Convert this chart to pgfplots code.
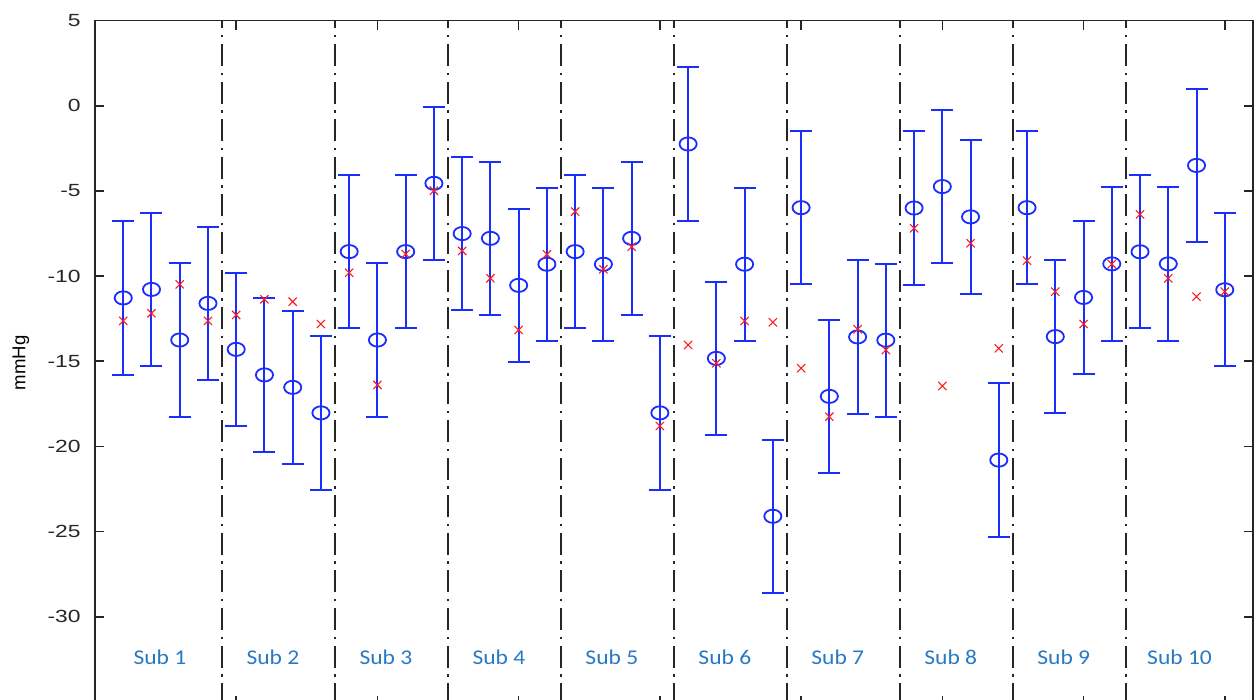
\documentclass[border=0pt]{standalone}
\usepackage{pgfplots}
\pgfplotsset{compat=1.18}
\usepackage{pgfplotstable}
\usepackage{fontspec}
\setmainfont{Liberation Sans}
\newfontfamily\calibri{Carlito}
\definecolor{sublbl}{RGB}{40,120,195}
\definecolor{mblue}{RGB}{25,45,255}

\pgfplotstableread{
x m e r
1 -11.28 4.5 -12.63
2 -10.78 4.5 -12.18
3 -13.75 4.5 -10.48
4 -11.60 4.5 -12.63
5 -14.30 4.5 -12.28
6 -15.80 4.5 -11.36
7 -16.53 4.5 -11.50
8 -18.03 4.5 -12.81
9 -8.56 4.5 -9.80
10 -13.75 4.5 -16.39
11 -8.56 4.5 -8.70
12 -4.55 4.5 -4.98
13 -7.50 4.5 -8.52
14 -7.78 4.5 -10.13
15 -10.54 4.5 -13.16
16 -9.30 4.5 -8.72
17 -8.56 4.5 -6.21
18 -9.30 4.5 -9.60
19 -7.78 4.5 -8.27
20 -18.03 4.5 -18.80
21 -2.24 4.5 -14.04
22 -14.83 4.5 -15.12
23 -9.30 4.5 -12.63
24 -24.10 4.5 -12.71
25 -5.98 4.5 -15.41
26 -17.06 4.5 -18.25
27 -13.57 4.5 -13.12
28 -13.76 4.5 -14.34
29 -6.00 4.5 -7.19
30 -4.74 4.5 -16.45
31 -6.52 4.5 -8.07
32 -20.80 4.5 -14.24
33 -5.98 4.5 -9.09
34 -13.55 4.5 -10.91
35 -11.25 4.5 -12.81
36 -9.28 4.5 -9.29
37 -8.57 4.5 -6.37
38 -9.28 4.5 -10.13
39 -3.50 4.5 -11.20
40 -10.80 4.5 -10.91
}\data

\begin{document}
\begin{tikzpicture}
\begin{axis}[
  scale only axis, width=579pt, height=342.3pt,
  xmin=0, xmax=41, ymin=-35.2, ymax=5,
  xtick={0,5,...,40}, xticklabels={},
  ytick={-30,-25,...,5},
  tick align=inside, major tick length=4.5pt,
  tick style={black!85, line width=0.8pt},
  axis line style={line width=0.8pt, black!85},
  /pgf/number format/assume math mode=true,
  yticklabel style={font=\fontsize{8.8}{10}\selectfont, xscale=1.3, xshift=-2pt, text=black!85},
  ylabel={mmHg},
  every axis y label/.style={at={([xshift=-37pt]axis description cs:0,0.5)}, rotate=90, anchor=center, font=\fontsize{9.3}{10}\selectfont},
  clip=false,
]
\coordinate (ll) at (rel axis cs:0,0);
\coordinate (ur) at (rel axis cs:1,1);

\pgfplotsinvokeforeach{4.5,8.5,12.5,16.5,20.5,24.5,28.5,32.5,36.5}{
  \draw[black!85, line width=1pt, dash pattern=on 11pt off 3.3pt on 1.2pt off 3.3pt] (axis cs:#1,-35.2) -- (axis cs:#1,5);
}

\addplot[mblue, line width=1pt, only marks, mark=o, mark size=3.3pt,
  mark options={xscale=1.3, line width=0.9pt},
  error bars/.cd, y dir=both, y explicit,
  error bar style={line width=1pt, mblue},
  error mark options={mblue, line width=1pt, mark size=5.5pt, rotate=90}]
  table[x=x, y=m, y error=e] {\data};

\addplot[red!90, only marks, mark=x, mark size=2.9pt, mark options={line width=0.55pt}]
  table[x=x, y=r] {\data};

\tikzset{sub/.style={text=sublbl, font=\calibri\fontsize{10.5}{12}\selectfont, xscale=1.12}}
\node[sub] at (axis cs:2.3,-32.4) {Sub 1};
\node[sub] at (axis cs:6.3,-32.4) {Sub 2};
\node[sub] at (axis cs:10.3,-32.4) {Sub 3};
\node[sub] at (axis cs:14.3,-32.4) {Sub 4};
\node[sub] at (axis cs:18.3,-32.4) {Sub 5};
\node[sub] at (axis cs:22.3,-32.4) {Sub 6};
\node[sub] at (axis cs:26.3,-32.4) {Sub 7};
\node[sub] at (axis cs:30.3,-32.4) {Sub 8};
\node[sub] at (axis cs:34.3,-32.4) {Sub 9};
\node[sub] at (axis cs:38.4,-32.4) {Sub 10};
\end{axis}
\pgfresetboundingbox
\path[use as bounding box] ([shift={(-47.5pt,2.65pt)}]ll) rectangle ([shift={(2.5pt,10.35pt)}]ur);
\end{tikzpicture}
\end{document}
